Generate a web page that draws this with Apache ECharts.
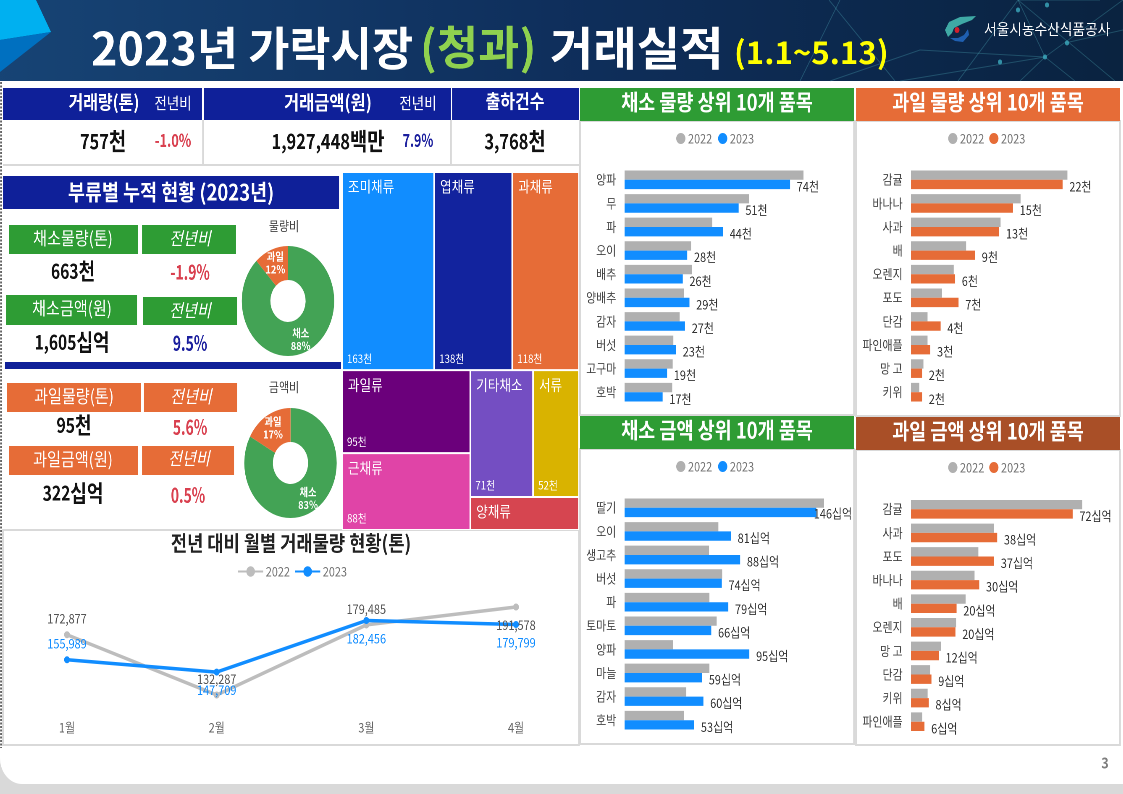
<!DOCTYPE html>
<html>
<head>
<meta charset="utf-8">
<script src="https://cdn.jsdelivr.net/npm/echarts@6/dist/echarts.min.js"></script>
<style>
  html, body { margin: 0; padding: 0; width: 1123px; height: 794px; overflow: hidden; background: #fff; }
  /* 원본 슬라이드가 가로로 눌려 있어서 전체를 같은 비율로 줄인다 */
  #main { width: 1337px; height: 794px; transform: scaleX(0.84); transform-origin: 0 0; }
</style>
</head>
<body>
<div id="main"></div>
<script>
var FONT = '"Noto Sans CJK KR", "Noto Sans", sans-serif';
var SQ = 0.84;
function X(x) { return x / SQ; }

// 채소 물량 (천톤)
var vegQtyNames = ['양파', '무', '파', '오이', '배추', '양배추', '감자', '버섯', '고구마', '호박'];
var vegQty2022 = [80, 55.7, 39.2, 29.7, 30.2, 26.6, 24.6, 21.8, 21.5, 21.3];
var vegQty2023 = [74, 51, 44, 28, 26, 29, 27, 23, 19, 17];
// 과일 물량 (천톤)
var fruitQtyNames = ['감귤', '바나나', '사과', '배', '오렌지', '포도', '단감', '파인애플', '망 고', '키위'];
var fruitQty2022 = [22.7, 15.9, 13, 8, 6.2, 4.5, 2.4, 2.4, 1.8, 1.2];
var fruitQty2023 = [22, 14.8, 12.8, 9.3, 6.4, 6.9, 4.3, 2.8, 1.6, 1.6];
// 채소 금액 (십억원)
var vegAmtNames = ['딸기', '오이', '생고추', '버섯', '파', '토마토', '양파', '마늘', '감자', '호박'];
var vegAmt2022 = [151.9, 71.4, 64.3, 74.3, 64.6, 70.1, 37, 64.6, 47, 45.2];
var vegAmt2023 = [146, 81, 88, 74, 79, 66, 95, 59, 60, 53];
// 과일 금액 (십억원)
var fruitAmtNames = ['감귤', '사과', '포도', '바나나', '배', '오렌지', '망 고', '단감', '키위', '파인애플'];
var fruitAmt2022 = [76.3, 37, 30, 28.3, 24.3, 20.1, 13.3, 8.5, 7.4, 5];
var fruitAmt2023 = [72, 38.4, 37, 30.4, 20.3, 19.8, 12.4, 9.1, 7.9, 6];
// 월별 거래물량 (톤)
var months = ['1월', '2월', '3월', '4월'];
var monthly2022 = [172877, 132287, 179485, 191578];
var monthly2023 = [155989, 147709, 182456, 179799];
var monthlyPos2022 = ['top', 'top', 'top', 'bottom'];
var monthlyPos2023 = ['top', 'bottom', 'bottom', 'bottom'];
// 부류별 누적 (천톤)
var groupNames = ['조미채류', '엽채류', '과채류', '과일류', '근채류', '기타채소', '서류', '양채류'];
var groupValues = [163, 138, 118, 95, 88, 71, 52, 32];
var groupColors = ['#118DFF', '#12239E', '#E66C37', '#6B007B', '#E044A7', '#744EC2', '#D9B300', '#D64550'];
// 트리맵 묶음 (groupNames 순번). 이렇게 묶어야 원본처럼 나뉜다
var groupTree = [[[0, 1], 2], [[3, 4], [[5, 6], 7]]];
// 도넛 (%)
var pieNames = ['채소', '과일'];
var qtyShare = [88, 12];
var amtShare = [83, 17];

var BLUE = '#118DFF', ORANGE = '#E66C37', GRAY = '#B0B0B0', NAVY = '#0F2099', GREEN = '#2E9C34', RED = '#D9404F', DBLUE = '#1B1F9E';

function rect(x, y, w, h, fill, extra) {
  var s = { fill: fill };
  if (extra && extra.stroke) { s.stroke = extra.stroke; s.lineWidth = extra.lineWidth || 1; }
  return { type: 'rect', shape: { x: X(x), y: y, width: X(w), height: h, r: (extra && extra.r) || 0 }, style: s, silent: true };
}
function txt(x, y, text, font, fill, align, sx) {
  return { type: 'text', x: X(x), y: y, scaleX: sx || 1, silent: true, style: { text: text, font: font + ' ' + FONT, fill: fill, textAlign: align || 'center', textVerticalAlign: 'middle' } };
}
// 숫자와 단위 글자 크기가 달라서 rich 로 찍는다
function num(x, y, n, unit, numSize, unitSize) {
  return {
    type: 'text', x: X(x), y: y, scaleX: 0.93, silent: true,
    style: {
      text: '{a|' + n + '}{b|' + unit + '}', textAlign: 'center', textVerticalAlign: 'middle',
      rich: {
        a: { font: 'bold ' + numSize + 'px ' + FONT, fill: '#111' },
        b: { font: 'bold ' + unitSize + 'px ' + FONT, fill: '#111' }
      }
    }
  };
}
function line(x1, y1, x2, y2, color, w, dash) {
  return { type: 'line', shape: { x1: X(x1), y1: y1, x2: X(x2), y2: y2 }, style: { stroke: color, lineWidth: w, lineDash: dash || null }, silent: true };
}
function poly(points, fill) {
  return { type: 'polygon', shape: { points: points.map(function (p) { return [X(p[0]), p[1]]; }) }, style: { fill: fill }, silent: true };
}

var g = [];
// 바탕
g.push(rect(0, 0, 1123, 794, '#D9D9D9'));
g.push(rect(0, 60, 1123, 724, '#FFFFFF', { r: [0, 0, 0, 26] }));
g.push({
  type: 'rect', shape: { x: 0, y: 0, width: X(1123), height: 81 }, silent: true,
  style: { fill: new echarts.graphic.LinearGradient(0, 0, 1, 0, [{ offset: 0, color: '#174475' }, { offset: 0.5, color: '#0F2F5C' }, { offset: 1, color: '#0A2340' }]) }
});
g.push(poly([[0, 0], [36, 0], [51, 32], [0, 40]], '#00B0F0'));
g.push(poly([[0, 40], [51, 32], [0, 72]], '#0070C0'));
// 헤더 배경 선
var net = [[830, 81, 920, 50], [920, 50, 1045, 57], [900, 81, 1045, 57], [1045, 57, 1020, 81], [1045, 57, 1075, 81], [1018, 0, 1045, 57],
  [1018, 0, 958, 81], [1018, 0, 1115, 81], [1018, 0, 1100, 0], [829, 0, 895, 81], [800, 81, 840, 0], [1045, 57, 1123, 0], [1065, 43, 1123, 30]];
net.forEach(function (n) { g.push(line(n[0], n[1], n[2], n[3], 'rgba(90,190,200,0.28)', 1)); });
[[1018, 10], [1045, 57], [1067, 43], [1047, 5], [1000, 62]].forEach(function (d) {
  g.push({ type: 'circle', shape: { cx: X(d[0]), cy: d[1], r: 2.5 }, style: { fill: 'rgba(60,170,190,0.8)' }, silent: true });
});
// 제목
g.push(txt(91, 48, '2023년 가락시장', 'bold 46px', '#FFFFFF', 'left', 1.16));
g.push(txt(420, 47, '(청과)', 'bold 46px', '#8FD14F', 'left', 1.16));
g.push(txt(550, 48, '거래실적', 'bold 46px', '#FFFFFF', 'left', 1.22));
g.push(txt(734, 52, '(1.1~5.13)', 'bold 31px', '#FFFF00', 'left', 1.2));
// 로고
g.push(poly([[976, 16], [960, 17], [949, 22], [945, 30], [948, 37], [952, 33], [954, 28], [962, 24], [972, 20]], '#3FA9A5'));
g.push(poly([[968, 29], [969, 35], [963, 42], [955, 41], [950, 38], [958, 38], [964, 35]], '#1F5FB0'));
g.push({ type: 'circle', shape: { cx: X(957), cy: 30, r: 3 }, style: { fill: '#D0202E' }, silent: true });
g.push(txt(984, 29, '서울시농수산식품공사', '15px', '#FFFFFF', 'left', 1.09));

// 왼쪽 점선
g.push(line(1, 82, 1, 748, '#444', 1.5, [2, 1.5]));

// 상단 KPI
g.push(rect(3, 88, 199, 32, NAVY));
g.push(rect(204, 88, 247, 32, NAVY));
g.push(rect(452, 88, 127, 32, NAVY));
g.push(txt(104, 102, '거래량(톤)', 'bold 19px', '#fff'));
g.push(txt(173, 103, '전년비', '16px', '#fff'));
g.push(txt(328, 102, '거래금액(원)', 'bold 19.5px', '#fff'));
g.push(txt(418, 103, '전년비', '16px', '#fff'));
g.push(txt(515, 101, '출하건수', 'bold 19px', '#fff'));
g.push(line(3, 165, 579, 165, '#D9D9D9', 2));
g.push(line(203, 120, 203, 165, '#D9D9D9', 2));
g.push(line(451, 120, 451, 165, '#D9D9D9', 2));
g.push(num(103, 141, '757', '천', 21, 24));
g.push(txt(173, 140, '-1.0%', 'bold 18px', RED, 'center', 0.85));
g.push(num(328, 141, '1,927,448', '백만', 21, 24));
g.push(txt(418, 140, '7.9%', 'bold 18px', DBLUE, 'center', 0.82));
g.push(num(515, 141, '3,768', '천', 21, 24));

// 부류별 제목
g.push(rect(3, 176, 336, 33, NAVY));
g.push(txt(171, 192, '부류별 누적 현황 (2023년)', 'bold 22px', '#fff'));

// 채소 박스
g.push(rect(9, 225, 129, 29, GREEN));
g.push(rect(142, 225, 94, 29, GREEN));
g.push(txt(73, 238, '채소물량(톤)', '18px', '#fff'));
g.push(txt(190, 238, '전년비', 'italic 18px', '#fff'));
g.push(num(73, 271, '663', '천', 20, 23));
g.push(txt(190, 272, '-1.9%', 'bold 20px', RED, 'center', 0.83));
g.push(rect(6, 295, 131, 30, GREEN));
g.push(rect(143, 297, 94, 28, GREEN));
g.push(txt(72, 308, '채소금액(원)', '18px', '#fff'));
g.push(txt(190, 310, '전년비', 'italic 18px', '#fff'));
g.push(num(72, 342, '1,605', '십억', 20, 23));
g.push(txt(190, 343, '9.5%', 'bold 20px', DBLUE, 'center', 0.83));
g.push(rect(5, 362, 336, 7, NAVY));

// 과일 박스
g.push(rect(7, 383, 134, 29, ORANGE));
g.push(rect(144, 383, 93, 29, ORANGE));
g.push(txt(74, 396, '과일물량(톤)', '18px', '#fff'));
g.push(txt(191, 396, '전년비', 'italic 18px', '#fff'));
g.push(num(74, 425, '95', '천', 20, 23));
g.push(txt(190, 427, '5.6%', 'bold 20px', RED, 'center', 0.83));
g.push(rect(9, 446, 129, 29, ORANGE));
g.push(rect(142, 446, 92, 29, ORANGE));
g.push(txt(73, 459, '과일금액(원)', '18px', '#fff'));
g.push(txt(189, 458, '전년비', 'italic 18px', '#fff'));
g.push(num(73, 493, '322', '십억', 20, 23));
g.push(txt(188, 495, '0.5%', 'bold 20px', RED, 'center', 0.83));

g.push(txt(284, 226, '물량비', '13px', '#444'));
g.push(txt(284, 387, '금액비', '13px', '#444'));

// 월별 패널
g.push(rect(3, 530, 576, 215, '#FFFFFF', { stroke: '#D9D9D9', lineWidth: 2 }));
g.push(txt(291, 543, '전년 대비 월별 거래물량 현황(톤)', 'bold 21px', '#222'));

// 오른쪽 패널
var panels = [
  [580, 88, 274, 33, 121, 294, GREEN, '채소 물량 상위 10개 품목'],
  [856, 88, 264, 33, 121, 295, ORANGE, '과일 물량 상위 10개 품목'],
  [580, 416, 274, 33, 449, 295, GREEN, '채소 금액 상위 10개 품목'],
  [856, 417, 264, 33, 450, 295, '#A94F27', '과일 금액 상위 10개 품목']
];
panels.forEach(function (p) {
  g.push(rect(p[0], p[4], p[2], p[5], '#FFFFFF', { stroke: '#D9D9D9', lineWidth: 2 }));
  g.push(rect(p[0], p[1], p[2], p[3], p[6]));
  g.push(txt(p[0] + p[2] / 2, p[1] + 14, p[7], 'bold 22px', '#fff'));
});
g.push(txt(1105, 763, '3', 'bold 15px', '#7F7F7F'));

// 막대 패널 하나: 그리드, 축, 범례, 시리즈
var grids = [], xAxes = [], yAxes = [], legends = [], series = [];
function addBars(opt) {
  var i = grids.length;
  var name22 = opt.key + ' 2022', name23 = opt.key + ' 2023';
  grids.push({ left: X(opt.left), top: opt.top, width: X(opt.width), height: 236 });
  xAxes.push({ gridIndex: i, type: 'value', min: 0, max: opt.width / opt.pxPerUnit, show: false });
  yAxes.push({
    gridIndex: i, type: 'category', inverse: true, data: opt.names,
    axisLine: { show: false }, axisTick: { show: false },
    axisLabel: { color: '#444', fontSize: 13, margin: 10, padding: [0, 0, 4, 0], fontFamily: FONT, interval: 0 }
  });
  legends.push({
    left: X(opt.legendLeft), top: opt.legendTop, icon: 'circle', itemWidth: 11, itemHeight: 11, itemGap: opt.legendGap,
    data: [name22, name23], selectedMode: false,
    formatter: function (n) { return n.slice(-4); },
    textStyle: { color: '#777', fontSize: 13, fontFamily: FONT, padding: [0, 0, 0, -2] }
  });
  series.push({
    name: name22, type: 'bar', xAxisIndex: i, yAxisIndex: i, data: opt.v22, silent: true,
    itemStyle: { color: GRAY }, barGap: 0, barCategoryGap: '21%'
  });
  series.push({
    name: name23, type: 'bar', xAxisIndex: i, yAxisIndex: i, silent: true,
    data: opt.v23.map(function (v) {
      // 맨 위 막대 라벨은 패널을 넘지 않게 막대 위로 겹쳐진다
      return v > 140 ? { value: v, label: { offset: [-11, 1] } } : v;
    }),
    itemStyle: { color: opt.color }, barGap: 0, barCategoryGap: '21%',
    label: {
      show: true, position: 'right', distance: 8, offset: [0, 2], color: '#333', fontSize: 13, fontFamily: FONT,
      formatter: function (p) { return Math.round(p.value) + opt.unit; }
    }
  });
}
addBars({ key: '채소 물량', names: vegQtyNames, v22: vegQty2022, v23: vegQty2023, left: 624.6, top: 168, width: 220, pxPerUnit: 2.236, color: BLUE, unit: '천', legendLeft: 672, legendTop: 127, legendGap: 7 });
addBars({ key: '과일 물량', names: fruitQtyNames, v22: fruitQty2022, v23: fruitQty2023, left: 911, top: 168, width: 200, pxPerUnit: 6.89, color: ORANGE, unit: '천', legendLeft: 944, legendTop: 127, legendGap: 6 });
addBars({ key: '채소 금액', names: vegAmtNames, v22: vegAmt2022, v23: vegAmt2023, left: 624.6, top: 496, width: 220, pxPerUnit: 1.313, color: BLUE, unit: '십억', legendLeft: 672, legendTop: 455, legendGap: 7 });
addBars({ key: '과일 금액', names: fruitAmtNames, v22: fruitAmt2022, v23: fruitAmt2023, left: 911, top: 497.5, width: 200, pxPerUnit: 2.245, color: ORANGE, unit: '십억', legendLeft: 944, legendTop: 456, legendGap: 6 });

// 월별 꺾은선
var li = grids.length;
grids.push({ left: X(67), top: 594.5, width: X(449), height: 118.7 });
xAxes.push({
  gridIndex: li, type: 'category', boundaryGap: false, data: months,
  axisLine: { show: false }, axisTick: { show: false },
  axisLabel: { color: '#666', fontSize: 13, margin: 8, fontFamily: FONT }
});
yAxes.push({ gridIndex: li, type: 'value', min: 120000, max: 200000, show: false });
legends.push({
  left: X(233), top: 560, itemWidth: 30, itemHeight: 13, itemGap: 5, selectedMode: false,
  data: ['월별 2022', '월별 2023'],
  formatter: function (n) { return n.slice(-4); },
  textStyle: { color: '#777', fontSize: 13, fontFamily: FONT, padding: [0, 0, 0, -2] }
});
function lineSeries(name, vals, pos, color, labelColor) {
  return {
    name: name, type: 'line', xAxisIndex: li, yAxisIndex: li, silent: true,
    symbol: 'circle', symbolSize: 7, lineStyle: { color: color, width: 3.5 }, itemStyle: { color: color },
    data: vals.map(function (v, i) {
      return { value: v, label: { position: pos[i], distance: pos[i] === 'top' ? 6 : 8 } };
    }),
    label: {
      show: true, color: labelColor, fontSize: 13, fontFamily: FONT,
      formatter: function (p) { return p.value.toLocaleString('en-US'); }
    }
  };
}
series.push(lineSeries('월별 2022', monthly2022, monthlyPos2022, '#BDBDBD', '#555'));
series.push(lineSeries('월별 2023', monthly2023, monthlyPos2023, BLUE, BLUE));

// 도넛
function pie(cx, cy, vals) {
  return {
    type: 'pie', center: [X(cx), cy], radius: [21, 55], startAngle: 90, silent: true,
    data: pieNames.map(function (n, i) {
      return { name: n, value: vals[i], itemStyle: { color: i === 0 ? '#43A355' : ORANGE } };
    }),
    label: {
      position: 'inside', color: '#fff', fontSize: 11, fontWeight: 'bold', lineHeight: 13, fontFamily: FONT,
      formatter: function (p) { return p.name + '\n' + p.value + '%'; }
    },
    labelLine: { show: false }
  };
}
series.push(pie(288, 301, qtyShare));
series.push(pie(290.5, 463, amtShare));

// 트리맵: 이름은 왼쪽 위, 값은 왼쪽 아래라서 같은 자료로 두 벌 겹친다
function treeNode(node, kind) {
  if (typeof node === 'number') {
    return {
      name: groupNames[node], value: groupValues[node],
      itemStyle: { color: kind === 'value' ? 'rgba(0,0,0,0)' : groupColors[node], borderWidth: kind === 'value' ? 0 : 1 }
    };
  }
  return { children: node.map(function (n) { return treeNode(n, kind); }) };
}
function treemap(kind) {
  return {
    type: 'treemap', left: X(342), top: 172, width: X(237), height: 358,
    roam: false, nodeClick: false, silent: true, breadcrumb: { show: false }, squareRatio: 1, visibleMin: 0,
    itemStyle: { borderColor: kind === 'value' ? 'rgba(0,0,0,0)' : '#fff', borderWidth: 0, gapWidth: 0, color: 'rgba(0,0,0,0)' },
    upperLabel: { show: false },
    label: {
      show: true, color: '#fff', fontFamily: FONT,
      position: kind === 'value' ? 'insideBottomLeft' : 'insideTopLeft',
      fontSize: kind === 'value' ? 11.5 : 15,
      distance: 1,
      formatter: function (p) {
        if (kind === 'name') return p.name;
        return p.value >= 50 ? p.value + '천' : '';
      }
    },
    data: groupTree.map(function (n) { return treeNode(n, kind); })
  };
}
series.push(treemap('name'));
series.push(treemap('value'));

var myChart = echarts.init(document.getElementById('main'), null, { width: 1337, height: 794, devicePixelRatio: 2 });
myChart.setOption({
  animation: false,
  textStyle: { fontFamily: FONT },
  graphic: { elements: g },
  grid: grids, xAxis: xAxes, yAxis: yAxes, legend: legends, series: series
});
</script>
</body>
</html>
